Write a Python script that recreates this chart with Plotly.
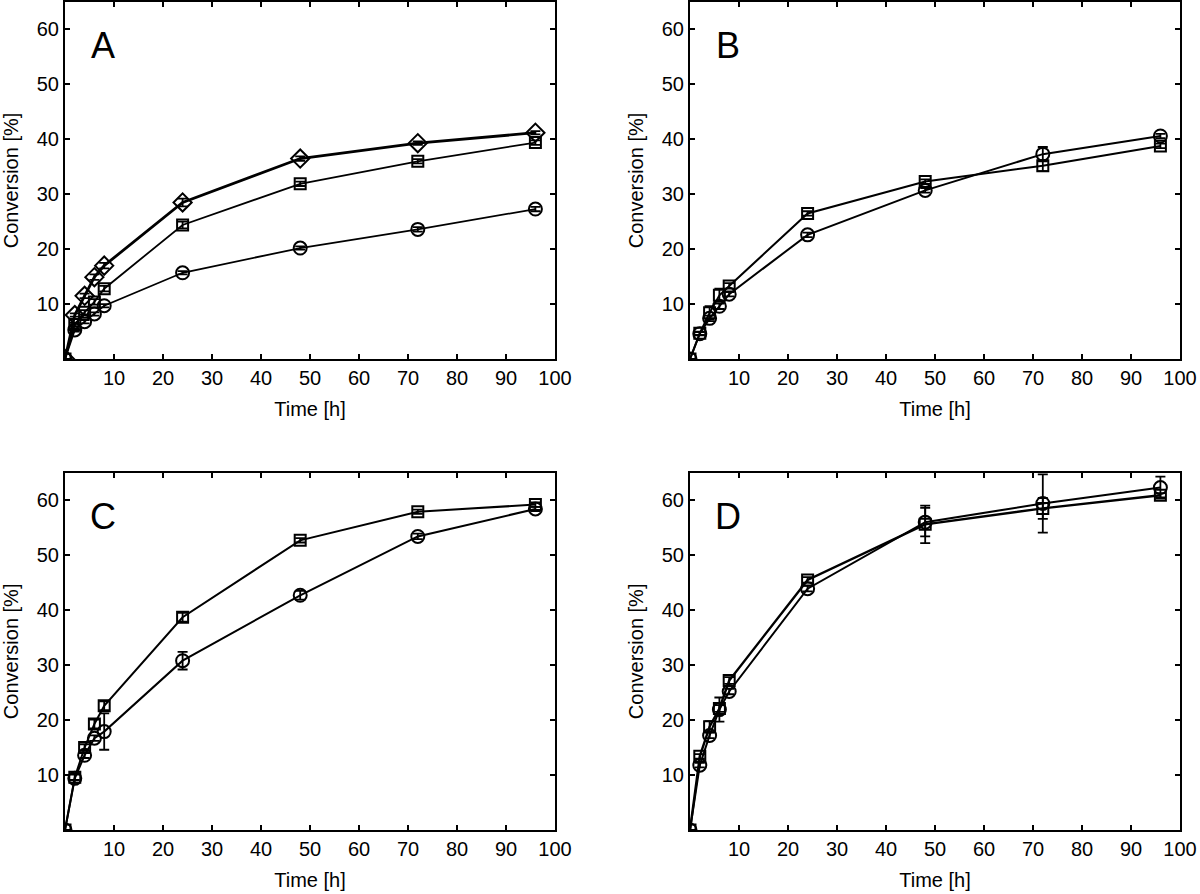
import plotly.graph_objects as go

# ---- data ----
time_h = [0, 2, 4, 6, 8, 24, 48, 72, 96]

a_circle = [0, 5.3, 6.8, 8.2, 9.7, 15.7, 20.2, 23.6, 27.3]
a_circle_err = [0, 0.3, 0.3, 0.3, 0.3, 0.3, 0.3, 0.4, 0.4]
a_square = [0, 6.3, 8.5, 10.4, 12.8, 24.4, 31.9, 36.0, 39.4]
a_square_err = [0, 0.3, 0.4, 0.5, 0.5, 0.6, 0.4, 0.4, 0.4]
a_diamond = [0, 8.0, 11.5, 14.9, 17.0, 28.5, 36.5, 39.3, 41.2]
a_diamond_err = [0, 0.3, 0.4, 0.5, 0.5, 0.7, 0.4, 0.3, 0.3]

b_circle = [0, 4.6, 7.4, 9.6, 11.8, 22.6, 30.7, 37.3, 40.6]
b_circle_err = [0, 0.3, 0.5, 0.5, 0.4, 0.4, 0.4, 1.3, 0.4]
b_square = [0, 4.7, 8.4, 11.6, 13.3, 26.5, 32.3, 35.2, 38.8]
b_square_err = [0, 0.3, 1.2, 1.2, 0.5, 0.4, 0.4, 1.0, 0.4]

c_circle = [0, 9.4, 13.6, 16.7, 17.9, 30.8, 42.7, 53.4, 58.4]
c_circle_err = [0, 0.8, 0.5, 0.5, 3.3, 1.6, 0.8, 0.5, 0.4]
c_square = [0, 9.6, 15.0, 19.3, 22.6, 38.7, 52.7, 57.9, 59.2]
c_square_err = [0, 0.5, 0.6, 0.8, 0.8, 0.8, 0.4, 0.4, 0.4]

d_circle = [0, 11.8, 17.2, 21.9, 25.2, 43.9, 56.0, 59.4, 62.3]
d_circle_err = [0, 0.4, 0.5, 2.2, 0.5, 0.5, 2.6, 5.3, 2.0]
d_square = [0, 13.4, 18.8, 22.1, 27.2, 45.5, 55.6, 58.5, 60.9]
d_square_err = [0, 0.4, 1.0, 0.6, 0.6, 0.5, 3.4, 1.9, 0.4]

x_ticks = [10, 20, 30, 40, 50, 60, 70, 80, 90, 100]
y_ticks = [10, 20, 30, 40, 50, 60]
panel_letters = ["A", "B", "C", "D"]

FONT = "Liberation Sans, Arial, sans-serif"

fig = go.Figure()

panels = [
    [(a_circle, a_circle_err, "circle-open", 13, 1.8),
     (a_square, a_square_err, "square-open", 11, 1.8),
     (a_diamond, a_diamond_err, "diamond-open", 14, 2.8)],
    [(b_circle, b_circle_err, "circle-open", 13, 2.0),
     (b_square, b_square_err, "square-open", 11, 2.0)],
    [(c_circle, c_circle_err, "circle-open", 13, 2.0),
     (c_square, c_square_err, "square-open", 11, 2.0)],
    [(d_circle, d_circle_err, "circle-open", 13, 2.0),
     (d_square, d_square_err, "square-open", 11, 2.4)],
]

for i, series in enumerate(panels):
    xa = "x" if i == 0 else f"x{i+1}"
    ya = "y" if i == 0 else f"y{i+1}"
    for vals, errs, sym, msize, lw in series:
        fig.add_trace(go.Scatter(
            x=time_h, y=vals, xaxis=xa, yaxis=ya,
            mode="lines+markers",
            line=dict(color="black", width=lw),
            marker=dict(symbol=sym, size=msize, color="black",
                        line=dict(color="black", width=2)),
            error_y=dict(type="data", array=errs, color="black",
                         thickness=1.8, width=5),
            showlegend=False, cliponaxis=True,
        ))

W, H = 1200, 894
xdom = [[65 / W, 555 / W], [690 / W, 1180 / W]]
ydom = [[1 - 359 / H, 1 - 2 / H], [1 - 830 / H, 1 - 472.7 / H]]

axis_common = dict(
    showline=True, linecolor="black", linewidth=2, mirror="ticks",
    ticks="inside", ticklen=5, tickwidth=1.5, tickcolor="black",
    showgrid=False, zeroline=False, automargin=False,
    tickfont=dict(family=FONT, size=20, color="black"),
)

layout = dict(
    width=W, height=H, autosize=False,
    margin=dict(l=0, r=0, t=0, b=0, pad=0),
    paper_bgcolor="white", plot_bgcolor="white",
    font=dict(family=FONT, color="black"),
    showlegend=False,
)

annotations = []
for i in range(4):
    col = i % 2
    row = i // 2
    xk = "xaxis" if i == 0 else f"xaxis{i+1}"
    yk = "yaxis" if i == 0 else f"yaxis{i+1}"
    xa = "x" if i == 0 else f"x{i+1}"
    ya = "y" if i == 0 else f"y{i+1}"
    layout[xk] = dict(axis_common, domain=xdom[col], range=[0, 100],
                      tickvals=x_ticks, anchor=ya,
                      title=dict(text="Time [h]", standoff=14,
                                 font=dict(family=FONT, size=20, color="black")))
    layout[yk] = dict(axis_common, domain=ydom[row], range=[0, 65],
                      tickvals=y_ticks, anchor=xa,
                      title=dict(text="Conversion [%]", standoff=13,
                                 font=dict(family=FONT, size=20, color="black")))
    annotations.append(dict(
        text=panel_letters[i], xref=xa, yref=ya, x=7.7, y=57.1,
        showarrow=False, xanchor="center", yanchor="middle",
        font=dict(family=FONT, size=36, color="black"),
    ))

layout["annotations"] = annotations
fig.update_layout(**layout)

fig.write_html(
    "out.html",
    config={"responsive": False, "displayModeBar": False},
    post_script="document.body.style.margin='0';document.body.style.overflow='hidden';",
)
